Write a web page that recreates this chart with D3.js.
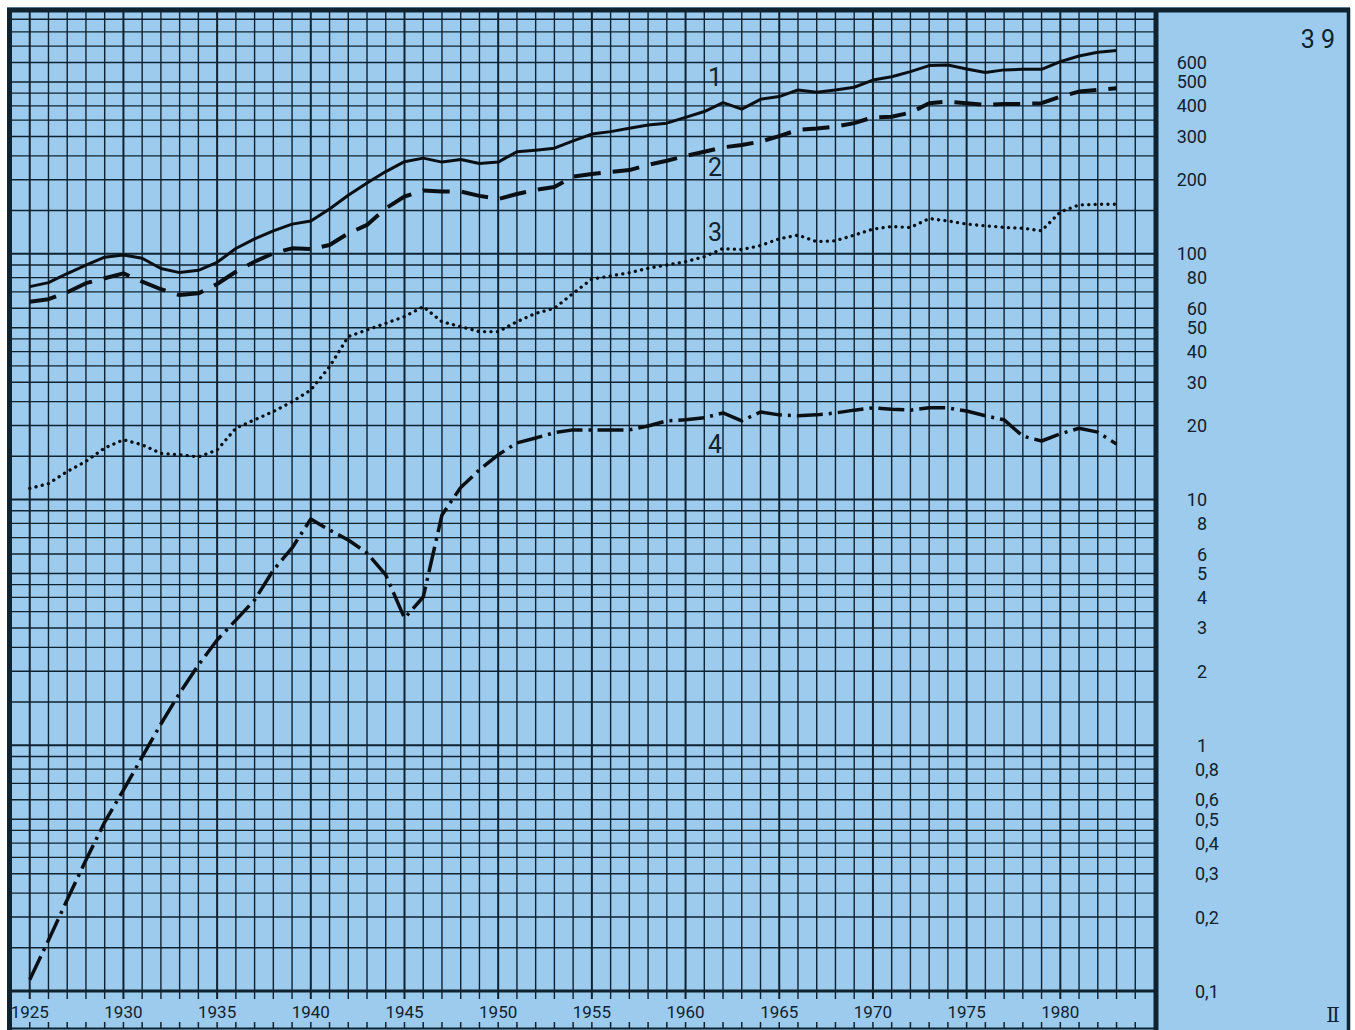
<!DOCTYPE html>
<html>
<head>
<meta charset="utf-8">
<script src="https://cdn.jsdelivr.net/npm/d3@7"></script>
<style>
  body { margin: 0; background: #fff; }
  svg { display: block; }
  text { font-family: Roboto, "DejaVu Sans", sans-serif; fill: #0f2230; }
</style>
</head>
<body>
<svg id="chart" width="1355" height="1030"></svg>
<script>
/*
 * DATA, one value per year 1925-1983.
 */
const years = d3.range(1925, 1984);

const series_1 = [73.5, 76.3, 83.1, 89.9, 96.8, 98.9, 95.9, 87.1, 83.8, 85.6,
                  92.3, 105, 115, 124, 132, 136, 152, 173, 194, 216,
                  237, 245, 236, 242, 233, 236, 260, 264, 269, 288,
                  307, 314, 324, 334, 340, 359, 379, 412, 388, 425,
                  436, 464, 454, 464, 476, 509, 525, 551, 583, 586,
                  565, 546, 560, 563, 563, 605, 638, 661, 671];

const series_2 = [63.8, 65.3, 69.7, 75.9, 79.5, 83.2, 77, 71.7, 67.9, 69,
                  75.3, 84.5, 92.8, 100.4, 105.2, 104.5, 108.5, 121, 131, 153,
                  171, 181, 179, 179, 172, 167, 175, 182, 187, 206,
                  211, 215, 219, 230, 239, 250, 260, 271, 277, 286,
                  301, 319, 323, 329, 340, 359, 361, 375, 410, 416,
                  410, 403, 407, 407, 410, 436, 457, 464, 471];

const series_3 = [11.1, 11.6, 13.0, 14.3, 16.2, 17.5, 16.7, 15.4, 15.2, 14.9,
                  15.9, 19.5, 21.1, 22.8, 25.0, 27.9, 34.7, 46.0, 49.0, 52.1,
                  55.5, 60.9, 52.9, 50.5, 48.2, 48.2, 52.9, 57.2, 60.0, 69.0,
                  78.9, 81.2, 83.7, 87.3, 90.0, 92.8, 97.3, 105, 104, 108,
                  115, 119, 112, 113, 119, 126, 129, 128, 139, 136,
                  132, 130, 128, 127, 124, 148, 158, 159, 159];

const series_4 = [0.111, 0.161, 0.235, 0.341, 0.487, 0.657, 0.896, 1.22, 1.63, 2.12,
                  2.68, 3.23, 3.90, 5.16, 6.35, 8.33, 7.51, 6.84, 6.06, 4.93,
                  3.29, 4.01, 8.65, 11.2, 13.2, 15.2, 17.0, 17.8, 18.7, 19.2,
                  19.2, 19.2, 19.2, 19.9, 20.9, 21.1, 21.5, 22.5, 20.9, 22.7,
                  22.1, 21.9, 22.1, 22.5, 23.1, 23.6, 23.3, 23.1, 23.6, 23.6,
                  22.9, 21.9, 21.1, 18.1, 17.3, 18.5, 19.5, 18.8, 16.8];

const year_labels   = [1925, 1930, 1935, 1940, 1945, 1950, 1955, 1960, 1965, 1970, 1975, 1980];
const value_ticks   = [600, 500, 400, 300, 200, 100, 80, 60, 50, 40, 30, 20, 10, 8, 6, 5, 4, 3, 2,
                       1, 0.8, 0.6, 0.5, 0.4, 0.3, 0.2, 0.1];
const grid_steps    = [1, 1.5, 2, 2.5, 3, 3.5, 4, 4.5, 5, 6, 7, 8, 9];
const decades       = [0.1, 1, 10, 100];
const curve_names   = ["1", "2", "3", "4"];

/*
 * SETUP
 */
const ink = "#0f2230", paper = "#9ccbee";
const svg = d3.select("#chart");

const graph_x = d3.scaleLinear().domain([1924, 1985]).range([11, 1154]);
const graph_y = d3.scaleLog().domain([0.1, 1000]).range([991, 8]);

svg.append("rect").attr("x", 7).attr("y", 7).attr("width", 1343).attr("height", 1023).style("fill", paper);

/*
 * GRID
 */
const grid_g = svg.append("g").attr("id", "grid_g_ID");

var h_lines = [];
decades.forEach(function(d){ grid_steps.forEach(function(s){ h_lines.push(d * s); }); });

grid_g.selectAll(".hline").data(h_lines).enter().append("line")
  .attr("class", "hline")
  .attr("x1", 11).attr("x2", 1155)
  .attr("y1", function(d){ return graph_y(d); })
  .attr("y2", function(d){ return graph_y(d); })
  .style("stroke", ink)
  .style("stroke-width", function(d){ return decades.indexOf(d) > -1 ? 2.2 : 1.3; });

grid_g.selectAll(".vline").data(d3.range(1925, 1985)).enter().append("line")
  .attr("class", "vline")
  .attr("x1", function(d){ return graph_x(d); })
  .attr("x2", function(d){ return graph_x(d); })
  .attr("y1", 9).attr("y2", 999)
  .style("stroke", ink)
  .style("stroke-width", function(d){ return d % 5 == 0 ? 2 : 1.4; });

// small ticks on the lower rule
grid_g.selectAll(".btick").data(d3.range(1925, 1985)).enter().append("line")
  .attr("x1", function(d){ return graph_x(d); })
  .attr("x2", function(d){ return graph_x(d); })
  .attr("y1", 1022).attr("y2", 1029)
  .style("stroke", ink).style("stroke-width", 1.5);

/*
 * FRAME
 */
function rule(x1, y1, x2, y2, w){
  svg.append("line").attr("x1", x1).attr("y1", y1).attr("x2", x2).attr("y2", y2)
    .style("stroke", ink).style("stroke-width", w);
}
rule(7, 10, 1350, 10, 5);        // top
rule(9.5, 8, 9.5, 1030, 5);      // left
rule(1156, 8, 1156, 1030, 5);    // divider
rule(1348.5, 8, 1348.5, 1030, 3.5);
rule(8, 991, 1156, 991, 3);      // 0,1 line / year axis
rule(8, 1028.5, 1156, 1028.5, 2);

/*
 * LABELS
 */
svg.selectAll(".year").data(year_labels).enter().append("text")
  .attr("x", function(d){ return graph_x(d); })
  .attr("y", 1018)
  .attr("text-anchor", "middle")
  .style("font-size", "17px")
  .text(function(d){ return d; });

svg.selectAll(".vtick").data(value_ticks).enter().append("text")
  .attr("x", function(d){ return d < 1 ? 1195 : 1207; })
  .attr("y", function(d){ return graph_y(d) + 6.5; })
  .attr("text-anchor", function(d){ return d < 1 ? "start" : "end"; })
  .style("font-size", "18px")
  .text(function(d){ return String(d).replace(".", ","); });

svg.append("text").attr("x", 1318).attr("y", 48).attr("text-anchor", "middle")
  .style("font-size", "25px").text("3 9");
svg.append("text").attr("x", 1333).attr("y", 1022).attr("text-anchor", "middle")
  .style("font-family", "'DejaVu Serif', serif").style("font-size", "20px").text("\u2161");

/*
 * CURVES
 */
const line = d3.line()
  .x(function(d){ return graph_x(d[0]); })
  .y(function(d){ return graph_y(d[1]); });

const curves = [
  {values: series_1, width: 3,   dash: null,         cap: "butt"},
  {values: series_2, width: 4,   dash: "27,12",      cap: "butt"},
  {values: series_3, width: 3.3, dash: "0.1,6.3",    cap: "round"},
  {values: series_4, width: 3.5, dash: "26,6,3,6",   cap: "butt"}
];

curves.forEach(function(c){
  svg.append("path")
    .datum(years.map(function(y, i){ return [y, c.values[i]]; }))
    .attr("d", line)
    .style("fill", "none")
    .style("stroke", "#0a0f14")
    .style("stroke-width", c.width)
    .style("stroke-linejoin", "round")
    .style("stroke-linecap", c.cap)
    .style("stroke-dasharray", c.dash);
});

// curve numbers, written at 1962
const label_at = [77, 167, 232, 444];
curve_names.forEach(function(n, i){
  svg.append("text").attr("x", 715).attr("y", label_at[i] + 9)
    .attr("text-anchor", "middle")
    .style("font-size", "25px")
    .text(n);
});
</script>
</body>
</html>
